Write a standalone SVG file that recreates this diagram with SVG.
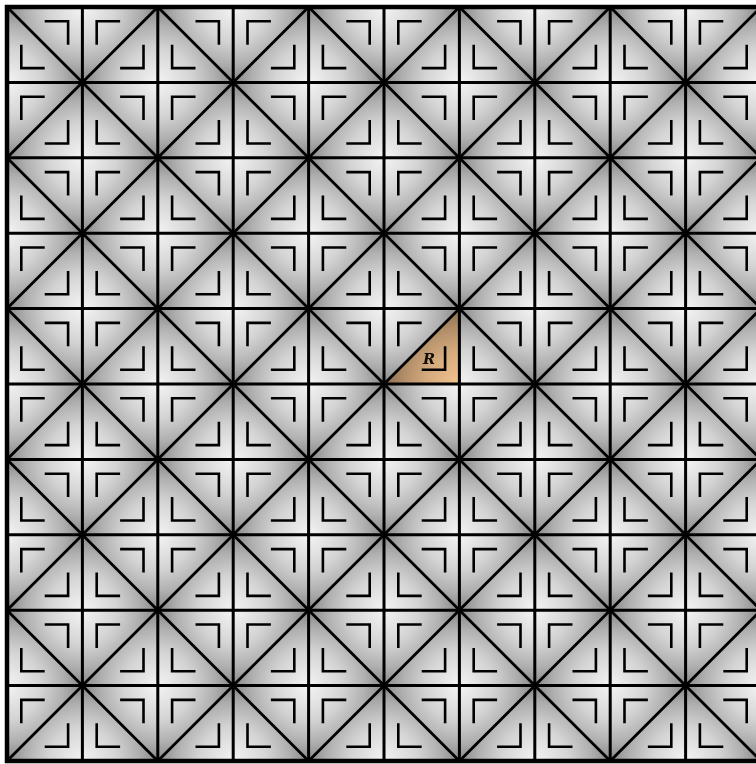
<svg xmlns="http://www.w3.org/2000/svg" xmlns:xlink="http://www.w3.org/1999/xlink" width="756" height="764" viewBox="0 0 756 764">
  <style>
    .mk { fill: none; stroke: #000; stroke-width: 2.6; stroke-linejoin: miter; stroke-linecap: butt; }
    .grid { fill: none; stroke: #000; stroke-width: 3; }
    .diag { fill: none; stroke: #000; stroke-width: 2.8; }
    .border { fill: none; stroke: #000; stroke-width: 4.5; }
    .label { font-family: "DejaVu Serif", "Liberation Serif", serif; font-weight: bold; font-style: italic; font-size: 14.5px; fill: #120c04; }
  </style>
  <defs>
    <radialGradient id="g" gradientUnits="userSpaceOnUse" cx="0" cy="0" r="75.4">
      <stop offset="0" stop-color="#f4f4f4"/>
      <stop offset="0.45" stop-color="#d4d4d4"/>
      <stop offset="0.75" stop-color="#b0b0b0"/>
      <stop offset="1" stop-color="#868686"/>
    </radialGradient>
    <path id="q" d="M0,0 H76 L0,76 Z" fill="url(#g)"/>
    <g id="tile">
      <use xlink:href="#q" transform="translate(75.4 0) rotate(90)"/>
      <use xlink:href="#q" transform="translate(0 75.4) rotate(270)"/>
      <use xlink:href="#q" transform="translate(75.4 0)"/>
      <use xlink:href="#q" transform="translate(150.8 75.4) rotate(180)"/>
      <use xlink:href="#q" transform="translate(0 75.4)"/>
      <use xlink:href="#q" transform="translate(75.4 150.8) rotate(180)"/>
      <use xlink:href="#q" transform="translate(150.8 75.4) rotate(90)"/>
      <use xlink:href="#q" transform="translate(75.4 150.8) rotate(270)"/>
      <path class="mk" d="M37.7,14.3 H61.1 V37.7 M14.3,37.7 V61.1 H37.7 M89.7,37.7 V14.3 H113.1 M113.1,61.1 H136.5 V37.7 M14.3,113.1 V89.7 H37.7 M37.7,136.5 H61.1 V113.1 M113.1,89.7 H136.5 V113.1 M89.7,113.1 V136.5 H113.1"/>
    </g>
  </defs>
  <rect x="0" y="0" width="756" height="764" fill="#ffffff"/>
  <rect x="7" y="7" width="754" height="754" fill="#b8b8b8"/>
  <g id="shading">
    <use xlink:href="#tile" x="7" y="7"/><use xlink:href="#tile" x="157.8" y="7"/><use xlink:href="#tile" x="308.6" y="7"/><use xlink:href="#tile" x="459.4" y="7"/><use xlink:href="#tile" x="610.2" y="7"/>
    <use xlink:href="#tile" x="7" y="157.8"/><use xlink:href="#tile" x="157.8" y="157.8"/><use xlink:href="#tile" x="308.6" y="157.8"/><use xlink:href="#tile" x="459.4" y="157.8"/><use xlink:href="#tile" x="610.2" y="157.8"/>
    <use xlink:href="#tile" x="7" y="308.6"/><use xlink:href="#tile" x="157.8" y="308.6"/><use xlink:href="#tile" x="308.6" y="308.6"/><use xlink:href="#tile" x="459.4" y="308.6"/><use xlink:href="#tile" x="610.2" y="308.6"/>
    <use xlink:href="#tile" x="7" y="459.4"/><use xlink:href="#tile" x="157.8" y="459.4"/><use xlink:href="#tile" x="308.6" y="459.4"/><use xlink:href="#tile" x="459.4" y="459.4"/><use xlink:href="#tile" x="610.2" y="459.4"/>
    <use xlink:href="#tile" x="7" y="610.2"/><use xlink:href="#tile" x="157.8" y="610.2"/><use xlink:href="#tile" x="308.6" y="610.2"/><use xlink:href="#tile" x="459.4" y="610.2"/><use xlink:href="#tile" x="610.2" y="610.2"/>
  </g>
  <g id="region-R">
    <polygon points="384,384 459.4,308.6 459.4,384" fill="#ffcc96" style="mix-blend-mode:multiply"/>
    <text class="label" x="429" y="363.5" text-anchor="middle">R</text>
  </g>
  <g id="connectors">
    <path class="grid" d="M82.4,7V761 M157.8,7V761 M233.2,7V761 M308.6,7V761 M384,7V761 M459.4,7V761 M534.8,7V761 M610.2,7V761 M685.6,7V761 M7,82.4H761 M7,157.8H761 M7,233.2H761 M7,308.6H761 M7,384H761 M7,459.4H761 M7,534.8H761 M7,610.2H761 M7,685.6H761"/>
    <path class="diag" d="M7,7 L761,761 M157.8,7 L761,610.2 M308.6,7 L761,459.4 M459.4,7 L761,308.6 M610.2,7 L761,157.8 M7,157.8 L610.2,761 M7,308.6 L459.4,761 M7,459.4 L308.6,761 M7,610.2 L157.8,761 M157.8,7 L7,157.8 M308.6,7 L7,308.6 M459.4,7 L7,459.4 M610.2,7 L7,610.2 M761,7 L7,761 M761,157.8 L157.8,761 M761,308.6 L308.6,761 M761,459.4 L459.4,761 M761,610.2 L610.2,761"/>
    <rect class="border" x="7" y="7" width="754" height="754"/>
  </g>
</svg>
